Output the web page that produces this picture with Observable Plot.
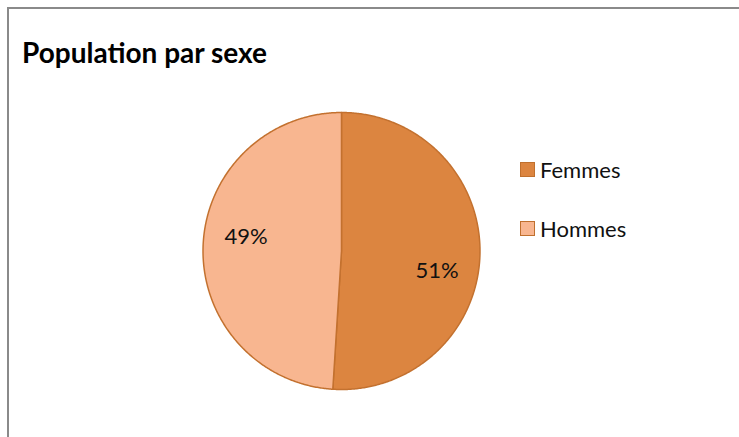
<!DOCTYPE html>
<html>
<head>
<meta charset="utf-8">
<script src="https://cdn.jsdelivr.net/npm/d3@7"></script>
<script src="https://cdn.jsdelivr.net/npm/@observablehq/plot@0.6"></script>
<style>
  html, body { margin: 0; padding: 0; background: #fff; }
  #wrap { position: relative; width: 739px; height: 437px; overflow: hidden; font-family: Lato, "Open Sans", sans-serif; }
  #frame { position: absolute; left: 7px; top: 7px; width: 740px; height: 440px; border-top: 2px solid #8a8a8a; border-left: 2px solid #8a8a8a; }
  #title { position: absolute; left: 22px; top: 35px; font-size: 28px; font-weight: bold; color: #000; letter-spacing: 0px; white-space: nowrap; }
  #chart { position: absolute; left: 0; top: 0; }
  .leg { position: absolute; left: 520px; display: flex; align-items: center; font-size: 22px; color: #111; }
  .sw { width: 13px; height: 13px; border: 1.5px solid #C0702E; margin-right: 5px; }
</style>
</head>
<body>
<div id="wrap">
  <div id="frame"></div>
  <div id="title">Population par sexe</div>
  <div id="chart"></div>
  <div id="legend"></div>
</div>
<script>
const categories = ["Femmes", "Hommes"];
const values = [51, 49];
const colors = ["#DC8540", "#F8B690"];
const valueLabels = ["51%", "49%"];

const arcs = d3.pie().sort(null).value(d => d)(values);
const slicePoints = [];
arcs.forEach((a, i) => {
  slicePoints.push({key: categories[i], x: 0, y: 0});
  const n = Math.max(2, Math.ceil((a.endAngle - a.startAngle) / (Math.PI / 360)));
  for (let k = 0; k <= n; k++) {
    const t = a.startAngle + (a.endAngle - a.startAngle) * k / n;
    slicePoints.push({key: categories[i], x: Math.sin(t), y: Math.cos(t)});
  }
  slicePoints.push({key: categories[i], x: 0, y: 0});
});
const labelPts = arcs.map((a, i) => {
  const m = (a.startAngle + a.endAngle) / 2;
  return {key: categories[i], label: valueLabels[i], x: 0.69 * Math.sin(m), y: 0.69 * Math.cos(m)};
});

const cx = 341, cy = 250.5, r = 138.5;
const chart = Plot.plot({
  width: 739,
  height: 437,
  margin: 0,
  x: {domain: [-1, 1], range: [cx - r, cx + r], axis: null},
  y: {domain: [-1, 1], range: [cy + r, cy - r], axis: null},
  color: {domain: categories, range: colors},
  style: {background: "transparent"},
  marks: [
    Plot.line(slicePoints, {x: "x", y: "y", z: "key", fill: "key", stroke: "#C3712F", strokeWidth: 1.5, strokeLinejoin: "round", curve: "linear"}),
    Plot.text(labelPts.filter(d => d.key === "Femmes"), {x: "x", y: "y", text: "label", dy: 17, fontSize: 22, fontFamily: "Lato", fill: "#111"}),
    Plot.text(labelPts.filter(d => d.key === "Hommes"), {x: "x", y: "y", text: "label", dy: -11, fontSize: 22, fontFamily: "Lato", fill: "#111"})
  ]
});
document.getElementById("chart").appendChild(chart);

const legend = document.getElementById("legend");
categories.forEach((c, i) => {
  const row = document.createElement("div");
  row.className = "leg";
  row.style.top = (156 + i * 59) + "px";
  const sw = document.createElement("div");
  sw.className = "sw";
  sw.style.background = colors[i];
  const tx = document.createElement("span");
  tx.textContent = c;
  row.appendChild(sw);
  row.appendChild(tx);
  legend.appendChild(row);
});
</script>
</body>
</html>
